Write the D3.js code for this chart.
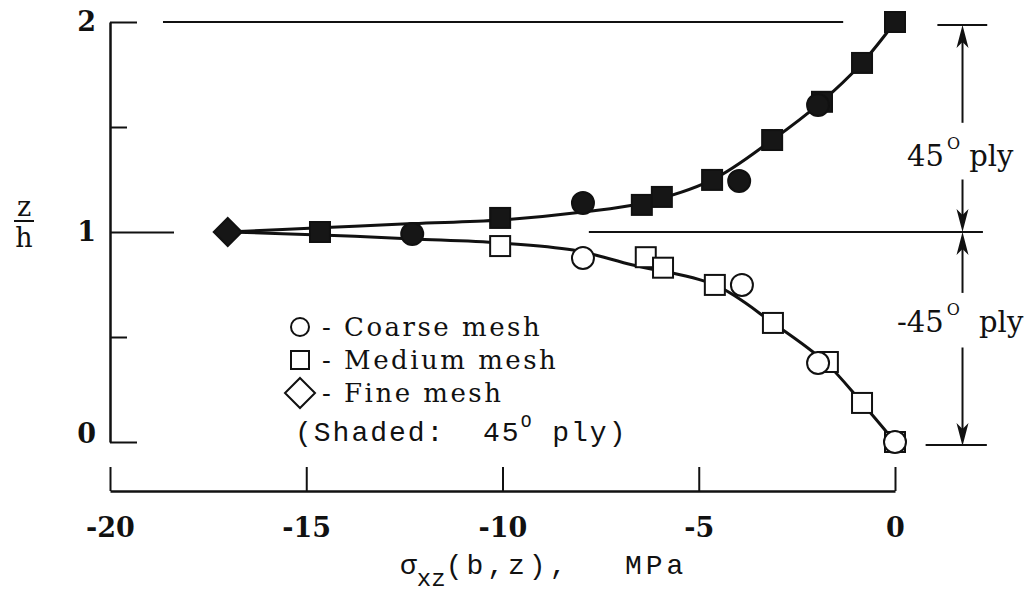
<!DOCTYPE html>
<html>
<head>
<meta charset="utf-8">
<script src="https://cdn.jsdelivr.net/npm/d3@7"></script>
<style>
  body { margin: 0; background: #fff; }
  svg { display: block; }
  .serif { font-family: "DejaVu Serif", "Liberation Serif", serif; }
  .mono { font-family: "Liberation Mono", "DejaVu Sans Mono", monospace; }
</style>
</head>
<body>
<svg id="chart"></svg>
<script>
// axis ticks
const xTicks = [-20, -15, -10, -5, 0];
const yTicks = [0, 0.5, 1, 1.5, 2];

// faired curves through the results
const upperX = [-17, -14.65, -12.28, -10.06, -7.95, -6.42, -4.66, -3.13, -1.91, -0.84, 0];
const upperZ = [1.0, 1.02, 1.04, 1.057, 1.095, 1.138, 1.248, 1.438, 1.614, 1.805, 2.0];
const lowerX = [-17, -14.65, -12.28, -10.06, -8.2, -6.68, -4.59, -3.11, -1.78, -0.84, 0];
const lowerZ = [1.0, 0.986, 0.967, 0.948, 0.914, 0.843, 0.748, 0.567, 0.381, 0.186, 0];

// medium mesh
const mediumShadedX = [-14.65, -10.06, -6.45, -5.94, -4.66, -3.13, -1.86, -0.84, 0];
const mediumShadedZ = [1.0, 1.067, 1.129, 1.167, 1.248, 1.438, 1.62, 1.805, 2.0];
const mediumOpenX = [-10.06, -6.35, -5.91, -4.59, -3.11, -1.71, -0.84, 0];
const mediumOpenZ = [0.933, 0.88, 0.83, 0.748, 0.567, 0.381, 0.186, 0];

// coarse mesh
const coarseShadedX = [-12.3, -7.95, -3.97, -1.96];
const coarseShadedZ = [0.99, 1.138, 1.243, 1.605];
const coarseOpenX = [-7.95, -3.9, -1.96, 0];
const coarseOpenZ = [0.876, 0.748, 0.376, 0];

// fine mesh
const fineShadedX = [-17];
const fineShadedZ = [1.0];

const legendLabels = ['Coarse mesh', 'Medium mesh', 'Fine mesh'];
const legendShapes = ['circle', 'square', 'diamond'];

const width = 1029, height = 594;
const ink = '#111';

const svg = d3.select('#chart')
    .attr('width', width)
    .attr('height', height);

const x = d3.scaleLinear().domain([-20, 0]).range([110, 895]);
const y = d3.scaleLinear().domain([0, 2]).range([442, 22]);

const zip = (xs, zs) => xs.map((v, i) => ({x: v, z: zs[i]}));

// ---- x axis (separate baseline under the plot)
const xAxis = svg.append('g')
    .attr('transform', 'translate(0,491)')
    .call(d3.axisBottom(x)
        .tickValues(xTicks)
        .tickSizeInner(-24)
        .tickSizeOuter(0)
        .tickPadding(27)
        .tickFormat(d => d === 0 ? '0' : '-' + Math.abs(d)));
xAxis.select('.domain').attr('stroke', ink).attr('stroke-width', 2.5);
xAxis.selectAll('.tick line').attr('stroke', ink).attr('stroke-width', 2);
xAxis.selectAll('.tick text')
    .attr('class', 'serif')
    .attr('font-size', 27)
    .attr('font-weight', 'bold')
    .attr('fill', ink);

// ---- y axis, ticks pointing into the plot
const yTickLen = d => d === 1 ? 64 : (d === 0.5 || d === 1.5 ? 17 : 27);
const yAxis = svg.append('g')
    .attr('transform', 'translate(110,0)')
    .call(d3.axisLeft(y)
        .tickValues(yTicks)
        .tickSizeInner(-27)
        .tickSizeOuter(0)
        .tickPadding(14)
        .tickFormat(d => Number.isInteger(d) ? d : ''));
yAxis.select('.domain').attr('stroke', ink).attr('stroke-width', 2.5);
yAxis.selectAll('.tick line')
    .attr('x2', d => yTickLen(d))
    .attr('stroke', ink).attr('stroke-width', 2);
yAxis.selectAll('.tick text')
    .attr('class', 'serif')
    .attr('font-size', 27)
    .attr('font-weight', 'bold')
    .attr('fill', ink)
    .attr('dy', d => d === 0 ? '0' : '0.32em');

// z/h label
const zh = svg.append('g').attr('class', 'serif').attr('fill', ink);
zh.append('text').attr('x', 24).attr('y', 216).attr('text-anchor', 'middle')
    .attr('font-size', 27).text('z');
zh.append('line').attr('x1', 14).attr('x2', 34).attr('y1', 221).attr('y2', 221)
    .attr('stroke', ink).attr('stroke-width', 2);
zh.append('text').attr('x', 24).attr('y', 247).attr('text-anchor', 'middle')
    .attr('font-size', 27).text('h');

// ---- reference lines at ply boundaries
const refLines = [
    {z: 2, from: -18.65, to: -1.32},
    {z: 1, from: -7.8, to: 2.24}
];
svg.append('g').selectAll('line')
    .data(refLines)
    .join('line')
    .attr('x1', d => x(d.from)).attr('x2', d => x(d.to))
    .attr('y1', d => y(d.z)).attr('y2', d => y(d.z))
    .attr('stroke', ink).attr('stroke-width', 2);

// ---- ply thickness dimension arrows
const dimX = x(1.72);
const bars = [{z: 2, from: 1.08, to: 2.35}, {z: 0, from: 0.78, to: 2.34}];
const dim = svg.append('g').attr('stroke', ink).attr('fill', ink);
dim.selectAll('.bar').data(bars).join('line')
    .attr('class', 'bar')
    .attr('x1', d => x(d.from)).attr('x2', d => x(d.to))
    .attr('y1', d => y(d.z) + 3).attr('y2', d => y(d.z) + 3)
    .attr('stroke-width', 2);

// arrows: tip at ply boundary, tail near the label
const arrows = [
    {tip: 2, tail: 1.52},
    {tip: 1, tail: 1.25},
    {tip: 1, tail: 0.71},
    {tip: 0, tail: 0.45}
];
arrows.forEach(a => {
    const ty = y(a.tip) + (a.tip === 2 ? 3 : a.tip === 0 ? 4 : 0);
    const sy = y(a.tail);
    const dir = sy > ty ? 1 : -1;
    dim.append('line')
        .attr('x1', dimX).attr('x2', dimX)
        .attr('y1', sy).attr('y2', ty + dir * 12)
        .attr('stroke-width', 2);
    dim.append('path')
        .attr('stroke', 'none')
        .attr('d', `M${dimX},${ty} L${dimX - 6},${ty + dir * 23} L${dimX},${ty + dir * 17} L${dimX + 6},${ty + dir * 23} Z`);
});

// ply labels
const plyLabel = (label, px, py, plyGap) => {
    const t = svg.append('text').attr('class', 'serif').attr('fill', ink)
        .attr('x', px).attr('y', py).attr('font-size', 29);
    t.append('tspan').text(label);
    t.append('tspan').attr('dx', 3).attr('dy', -17).attr('font-size', 16).text('O');
    t.append('tspan').attr('dx', plyGap).attr('dy', 17).text(' ply');
};
plyLabel('45', 907, 166, 0);
plyLabel('-45', 897, 332, 10);

// ---- curves
const line = d3.line()
    .x(d => x(d.x))
    .y(d => y(d.z))
    .curve(d3.curveCatmullRom.alpha(0.5));

svg.append('g').selectAll('path')
    .data([zip(upperX, upperZ), zip(lowerX, lowerZ)])
    .join('path')
    .attr('d', line)
    .attr('fill', 'none')
    .attr('stroke', ink)
    .attr('stroke-width', 3);

// ---- markers
const drawMarker = (g, shape, cx, cy, filled, s) => {
    let m;
    if (shape === 'circle') {
        m = g.append('circle').attr('cx', cx).attr('cy', cy).attr('r', s.r);
    } else if (shape === 'square') {
        m = g.append('rect').attr('x', cx - s.h).attr('y', cy - s.h)
            .attr('width', 2 * s.h).attr('height', 2 * s.h);
    } else {
        const d = s.d;
        m = g.append('path').attr('d', `M${cx},${cy - d} L${cx + d},${cy} L${cx},${cy + d} L${cx - d},${cy} Z`);
    }
    m.attr('fill', filled ? '#161616' : '#fff')
        .attr('stroke', ink)
        .attr('stroke-width', 2);
};

const markerSize = {r: 11, h: 10, d: 14};
const markers = svg.append('g');
const series = [
    {shape: 'square', filled: false, pts: zip(mediumOpenX, mediumOpenZ)},
    {shape: 'circle', filled: false, pts: zip(coarseOpenX, coarseOpenZ)},
    {shape: 'square', filled: true, pts: zip(mediumShadedX, mediumShadedZ)},
    {shape: 'circle', filled: true, pts: zip(coarseShadedX, coarseShadedZ)},
    {shape: 'diamond', filled: true, pts: zip(fineShadedX, fineShadedZ)}
];
series.forEach(s => {
    s.pts.forEach(p => drawMarker(markers, s.shape, x(p.x), y(p.z), s.filled, markerSize));
});

// ---- legend
const legend = svg.append('g');
legendLabels.forEach((label, i) => {
    const cy = 327 + i * 33;
    drawMarker(legend, legendShapes[i], 300, cy, false, {r: 9, h: 9, d: 15});
    legend.append('text')
        .attr('class', 'serif')
        .attr('x', 322).attr('y', cy + 9)
        .attr('font-size', 26)
        .attr('letter-spacing', 2.5)
        .attr('fill', ink)
        .text('- ' + label);
});
const shaded = legend.append('text')
    .attr('class', 'mono')
    .attr('x', 295).attr('y', 441)
    .attr('font-size', 28)
    .attr('letter-spacing', 2)
    .attr('fill', ink)
    .style('white-space', 'pre');
shaded.append('tspan').text('(Shaded:  45');
shaded.append('tspan').attr('dy', -14).attr('font-size', 18).text('O');
shaded.append('tspan').attr('dy', 14).text(' ply)');

// ---- x axis title
const title = svg.append('text')
    .attr('class', 'mono')
    .attr('x', 400).attr('y', 574)
    .attr('font-size', 28)
    .attr('fill', ink)
    .style('white-space', 'pre');
title.append('tspan').text('\u03c3');
title.append('tspan').attr('dy', 12).attr('font-size', 24).text('xz');
title.append('tspan').attr('dy', -12).attr('letter-spacing', 4).text('(b,z),');
title.append('tspan').attr('x', 625).attr('letter-spacing', 4).text('MPa');
</script>
</body>
</html>
